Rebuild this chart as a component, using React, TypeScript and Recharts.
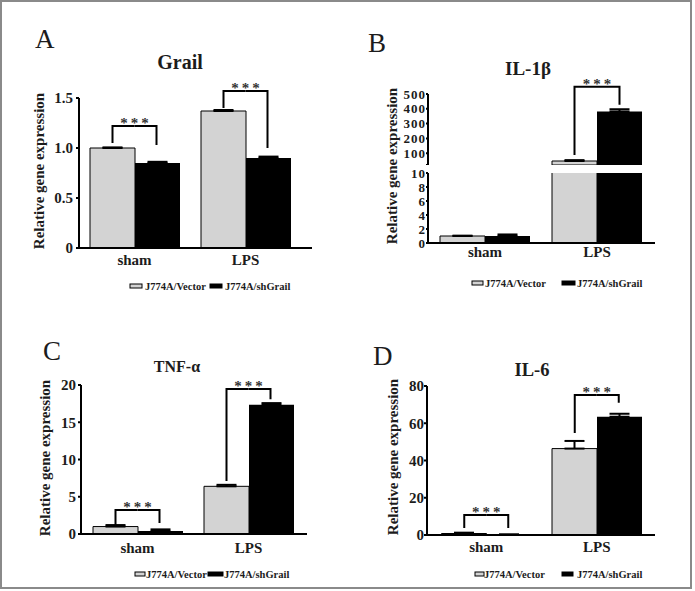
import { BarChart, Bar, XAxis, YAxis, ErrorBar, ReferenceLine } from 'recharts'

const FONT = '"Liberation Serif", "Times New Roman", serif'
const GRAY = '#d3d3d3'
const INK = '#1c1c1c'

const categories = ['sham', 'LPS']
const seriesNames = ['J774A/Vector', 'J774A/shGrail']
const seriesColors = [GRAY, '#000']

// A - Grail
const grailVector = [1.0, 1.37]
const grailVectorErr = [0.006, 0.01]
const grailSh = [0.85, 0.9]
const grailShErr = [0.012, 0.014]
const grailTicks = [0, 0.5, 1, 1.5]
const grailTickLabels = ['0', '0.5', '1.0', '1.5']
const grailBracketTop = [1.22, 1.57]
const grailBracketLeft = [1.05, 1.4]
const grailBracketRight = [1.03, 1.0]

// B - IL-1b (broken axis)
const il1bVector = [1.0, 47]
const il1bVectorErr = [0.05, 6]
const il1bSh = [1.0, 382]
const il1bShErr = [0.22, 15]
const il1bUpperTicks = [20, 100, 200, 300, 400, 500]
const il1bUpperTickLabels = ['', '100', '200', '300', '400', '500']
const il1bLowerTicks = [0, 2, 4, 6, 8, 10]
const il1bBracketTop = [null, 549]
const il1bBracketLeft = [null, 88]
const il1bBracketRight = [null, 427]

// C - TNF-a
const tnfVector = [1.0, 6.4]
const tnfVectorErr = [0.2, 0.2]
const tnfSh = [0.4, 17.35]
const tnfShErr = [0.22, 0.22]
const tnfTicks = [0, 5, 10, 15, 20]
const tnfBracketTop = [3.22, 19.46]
const tnfBracketLeft = [1.2, 7.1]
const tnfBracketRight = [1.48, 18.1]

// D - IL-6
const il6Vector = [0.8, 46.4]
const il6VectorErr = [0.45, 4.1]
const il6Sh = [0.2, 63.5]
const il6ShErr = [0.1, 1.6]
const il6Ticks = [0, 20, 40, 60, 80]
const il6BracketTop = [10.7, 75.2]
const il6BracketLeft = [3.8, 54.8]
const il6BracketRight = [3.8, 71]

function makeRows(v, ve, s, se, top, left, right) {
  return categories.map((name, i) => ({
    name,
    vector: v[i],
    vectorErr: [0, ve[i]],
    sh: s[i],
    shErr: [0, se[i]],
    top: top[i],
    left: left[i],
    right: right[i],
  }))
}

const grailRows = makeRows(grailVector, grailVectorErr, grailSh, grailShErr, grailBracketTop, grailBracketLeft, grailBracketRight)
const il1bRows = makeRows(il1bVector, il1bVectorErr, il1bSh, il1bShErr, il1bBracketTop, il1bBracketLeft, il1bBracketRight)
const tnfRows = makeRows(tnfVector, tnfVectorErr, tnfSh, tnfShErr, tnfBracketTop, tnfBracketLeft, tnfBracketRight)
const il6Rows = makeRows(il6Vector, il6VectorErr, il6Sh, il6ShErr, il6BracketTop, il6BracketLeft, il6BracketRight)

type Lay = {
  x0: number; y0: number
  plotLeft: number; plotRight: number; plotTop: number; plotBottom: number
  padLeft: number; padRight: number; gap: number
  yTickMargin: number; xTickMargin: number
}

const layA: Lay = { x0: 20, y0: 70, plotLeft: 79, plotRight: 312, plotTop: 98, plotBottom: 248, padLeft: 0, padRight: 11, gap: 11, yTickMargin: 3, xTickMargin: 6 }
const layBUp: Lay = { x0: 370, y0: 70, plotLeft: 428, plotRight: 655, plotTop: 94, plotBottom: 165, padLeft: 1, padRight: 2, gap: 11, yTickMargin: 0, xTickMargin: 3 }
const layBLow: Lay = { ...layBUp, y0: 150, plotTop: 173, plotBottom: 243 }
const layC: Lay = { x0: 20, y0: 370, plotLeft: 81, plotRight: 307, plotTop: 385, plotBottom: 534, padLeft: 1, padRight: 3, gap: 11, yTickMargin: 2, xTickMargin: 8 }
const layD: Lay = { x0: 370, y0: 370, plotLeft: 427, plotRight: 655, plotTop: 386, plotBottom: 535, padLeft: 4, padRight: 3, gap: 10.5, yTickMargin: 0, xTickMargin: 6 }

const tickStyle = { fontFamily: FONT, fontSize: 15, fontWeight: 700, fill: INK }
const smallTickStyle = { fontFamily: FONT, fontSize: 13, fontWeight: 700, fill: INK, letterSpacing: 1 }
const axisLine = { stroke: '#000', strokeWidth: 2 }

function GeneChart({ rows, lay, domain, ticks, tickLabels, showX = true, clip = false, brackets = true, small = false }: any) {
  const xH = showX ? 30 : 0
  const width = lay.plotRight + 4 - lay.x0
  const height = lay.plotBottom + xH - lay.y0
  const band = (lay.plotRight - lay.plotLeft - lay.padLeft - lay.padRight) / categories.length
  const half = Math.floor((band - 2 * lay.gap) / 2) / 2
  const fmt = (v: number) => (tickLabels ? tickLabels[ticks.indexOf(v)] ?? String(v) : String(v))
  // on the upper part of a broken axis, values below the break are not drawn
  const floor = domain[0]
  const data = rows.map((r: any) => ({
    ...r,
    vector: r.vector >= floor ? r.vector : null,
    sh: r.sh >= floor ? r.sh : null,
  }))
  const marked = brackets ? rows.filter((r: any) => r.top != null) : []

  return (
    <div style={{ position: 'absolute', left: lay.x0, top: lay.y0 }}>
      <BarChart
        width={width}
        height={height}
        data={data}
        margin={{ top: lay.plotTop - lay.y0, right: 4, bottom: 0, left: 0 }}
        barGap={0}
        barCategoryGap={lay.gap}
      >
        <XAxis
          dataKey="name"
          hide={!showX}
          height={xH}
          interval={0}
          axisLine={axisLine}
          tickLine={false}
          tickSize={0}
          tickMargin={lay.xTickMargin}
          padding={{ left: lay.padLeft, right: lay.padRight }}
          tick={tickStyle}
        />
        <YAxis
          width={lay.plotLeft - lay.x0}
          domain={domain}
          ticks={ticks}
          allowDataOverflow={clip}
          interval={0}
          axisLine={axisLine}
          tickLine={{ stroke: '#000', strokeWidth: 2 }}
          tickSize={small ? 2 : 3}
          tickMargin={lay.yTickMargin}
          tick={small ? smallTickStyle : tickStyle}
          tickFormatter={fmt}
        />
        <Bar dataKey="vector" fill={GRAY} stroke="#000" strokeWidth={1} isAnimationActive={false}>
          <ErrorBar dataKey="vectorErr" direction="y" width={10} strokeWidth={2} stroke="#000" />
        </Bar>
        <Bar dataKey="sh" fill="#000" isAnimationActive={false}>
          <ErrorBar dataKey="shErr" direction="y" width={10} strokeWidth={2} stroke="#000" />
        </Bar>
        {marked.map((r: any) => (
          <ReferenceLine
            key={'l' + r.name}
            segment={[{ x: r.name, y: r.left }, { x: r.name, y: r.top }]}
            ifOverflow="visible"
            shape={(p: any) => (
              <path d={`M${p.x1 - half},${p.y1}V${p.y2}H${p.x1}`} stroke="#000" strokeWidth={2} fill="none" />
            )}
          />
        ))}
        {marked.map((r: any) => (
          <ReferenceLine
            key={'r' + r.name}
            segment={[{ x: r.name, y: r.right }, { x: r.name, y: r.top }]}
            ifOverflow="visible"
            shape={(p: any) => (
              <g>
                <path d={`M${p.x1 + half},${p.y1}V${p.y2}H${p.x1}`} stroke="#000" strokeWidth={2} fill="none" />
                <text x={p.x1 + 1.5} y={p.y2 + 2} textAnchor="middle" fontFamily={FONT} fontSize={15} fontWeight={700} letterSpacing={3} fill="#333">
                  ***
                </text>
              </g>
            )}
          />
        ))}
      </BarChart>
    </div>
  )
}

const letters = [
  { t: 'A', x: 35, y: 48 },
  { t: 'B', x: 368, y: 52 },
  { t: 'C', x: 43, y: 360 },
  { t: 'D', x: 373, y: 365 },
]
const titles = [
  { t: 'Grail', x: 180, y: 69, size: 20 },
  { t: 'IL-1β', x: 528, y: 75, size: 19 },
  { t: 'TNF-α', x: 177, y: 372, size: 16 },
  { t: 'IL-6', x: 532, y: 376, size: 18.5 },
]
const yLabels = [
  { x: 39, y: 171 },
  { x: 392, y: 166 },
  { x: 45, y: 458 },
  { x: 393, y: 457 },
]
const legends = [
  { y: 286, sw: [[130, 12], [210, 12]], tx: [145, 225] },
  { y: 283, sw: [[472, 11], [562, 13]], tx: [485, 577] },
  { y: 574, sw: [[135, 10], [208, 15]], tx: [146, 224] },
  { y: 574, sw: [[475, 9], [562, 11]], tx: [484, 577] },
]

function Overlay() {
  return (
    <svg width={695} height={591} style={{ position: 'absolute', left: 0, top: 0, pointerEvents: 'none' }}>
      {letters.map((l) => (
        <text key={l.t} x={l.x} y={l.y} fontFamily={FONT} fontSize={27} fill={INK}>
          {l.t}
        </text>
      ))}
      {titles.map((l) => (
        <text key={l.t} x={l.x} y={l.y} textAnchor="middle" fontFamily={FONT} fontSize={l.size} fontWeight={700} fill={INK}>
          {l.t}
        </text>
      ))}
      {yLabels.map((l, i) => (
        <text
          key={i}
          x={l.x}
          y={l.y}
          transform={`rotate(-90 ${l.x} ${l.y})`}
          textAnchor="middle"
          dominantBaseline="central"
          fontFamily={FONT}
          fontSize={15}
          fontWeight={700}
          fill={INK}
        >
          Relative gene expression
        </text>
      ))}
      {legends.map((g, i) => (
        <g key={i}>
          {seriesNames.map((n, k) => (
            <g key={n}>
              <rect x={g.sw[k][0]} y={g.y - 2} width={g.sw[k][1]} height={4} fill={seriesColors[k]} stroke="#000" strokeWidth={1} />
              <text x={g.tx[k]} y={g.y + 3.5} fontFamily={FONT} fontSize={10.5} fontWeight={700} fill={INK}>
                {n}
              </text>
            </g>
          ))}
        </g>
      ))}
    </svg>
  )
}

export default function App() {
  return (
    <div style={{ position: 'absolute', left: 0, top: 0, width: 695, height: 591, background: '#fff', fontFamily: FONT }}>
      <div style={{ position: 'absolute', left: 0, top: 0, width: 692, height: 589, border: '2px solid #8a8a8a', boxSizing: 'border-box' }} />
      <GeneChart rows={grailRows} lay={layA} domain={[0, 1.5]} ticks={grailTicks} tickLabels={grailTickLabels} />
      <GeneChart rows={il1bRows} lay={layBLow} domain={[0, 10]} ticks={il1bLowerTicks} clip brackets={false} small />
      <GeneChart rows={il1bRows} lay={layBUp} domain={[20, 500]} ticks={il1bUpperTicks} tickLabels={il1bUpperTickLabels} showX={false} clip small />
      <GeneChart rows={tnfRows} lay={layC} domain={[0, 20]} ticks={tnfTicks} />
      <GeneChart rows={il6Rows} lay={layD} domain={[0, 80]} ticks={il6Ticks} />
      <Overlay />
    </div>
  )
}
